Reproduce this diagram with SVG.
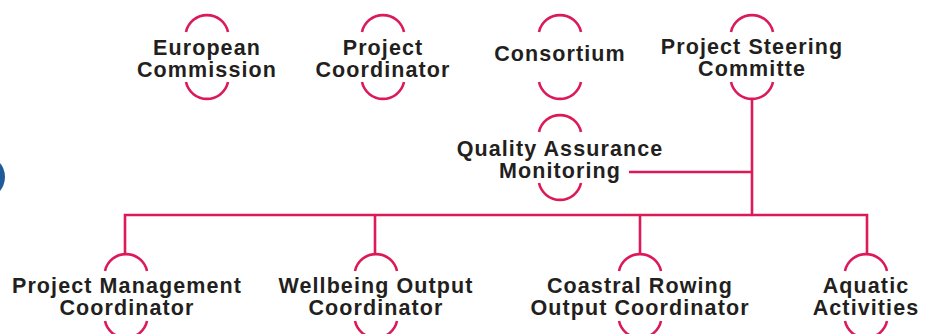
<svg xmlns="http://www.w3.org/2000/svg" width="930" height="334" viewBox="0 0 930 334">
<style>
.arc{fill:none;stroke:#dc1a58;stroke-width:2.6;stroke-linecap:butt}
.ln{fill:none;stroke:#dc1a58;stroke-width:2.6}
text{font-family:"Liberation Sans",Arial,sans-serif;font-weight:bold;font-size:21.5px;letter-spacing:1.1px;fill:#231f20;text-anchor:middle}
</style>
<rect width="930" height="334" fill="#ffffff"/>
<circle cx="-17" cy="177" r="22" fill="#1f5a9a"/>
<g id="connectors">
<path class="ln" d="M752,98 V215"/>
<path class="ln" d="M629,172 H752"/>
<path class="ln" d="M125,255 V215 H867 V255"/>
<path class="ln" d="M375,215 V255"/>
<path class="ln" d="M640,215 V255"/>
</g>
<g id="european-commission">
<path class="arc" d="M186,32 A21.5,21.5 0 0 1 228,32"/>
<path class="arc" d="M186,82 A21.5,21.5 0 0 0 228,82"/>
<text x="207" y="55">European</text>
<text x="207" y="77">Commission</text>
</g>
<g id="project-coordinator">
<path class="arc" d="M362,32 A21.5,21.5 0 0 1 404,32"/>
<path class="arc" d="M362,82 A21.5,21.5 0 0 0 404,82"/>
<text x="383" y="55">Project</text>
<text x="383" y="77">Coordinator</text>
</g>
<g id="consortium">
<path class="arc" d="M539,32 A21.5,21.5 0 0 1 581,32"/>
<path class="arc" d="M539,82 A21.5,21.5 0 0 0 581,82"/>
<text x="560" y="61">Consortium</text>
</g>
<g id="project-steering-committe">
<path class="arc" d="M731,32 A21.5,21.5 0 0 1 773,32"/>
<path class="arc" d="M731,82 A21.5,21.5 0 0 0 773,82"/>
<text x="752" y="54">Project Steering</text>
<text x="752" y="76">Committe</text>
</g>
<g id="quality-assurance-monitoring">
<path class="arc" d="M539,132 A21.5,21.5 0 0 1 581,132"/>
<path class="arc" d="M539,183 A21.5,21.5 0 0 0 581,183"/>
<text x="560" y="156">Quality Assurance</text>
<text x="560" y="178">Monitoring</text>
</g>
<g id="project-management-coordinator">
<path class="arc" d="M105,271 A21.5,21.5 0 0 1 147,271"/>
<path class="arc" d="M105,321 A21.5,21.5 0 0 0 147,321"/>
<text x="127" y="293">Project Management</text>
<text x="127" y="315">Coordinator</text>
</g>
<g id="wellbeing-output-coordinator">
<path class="arc" d="M355,271 A21.5,21.5 0 0 1 397,271"/>
<path class="arc" d="M355,321 A21.5,21.5 0 0 0 397,321"/>
<text x="376" y="293">Wellbeing Output</text>
<text x="376" y="315">Coordinator</text>
</g>
<g id="coastral-rowing-output-coordinator">
<path class="arc" d="M619,271 A21.5,21.5 0 0 1 661,271"/>
<path class="arc" d="M619,321 A21.5,21.5 0 0 0 661,321"/>
<text x="640" y="293">Coastral Rowing</text>
<text x="640" y="315">Output Coordinator</text>
</g>
<g id="aquatic-activities">
<path class="arc" d="M845,271 A21.5,21.5 0 0 1 887,271"/>
<path class="arc" d="M845,321 A21.5,21.5 0 0 0 887,321"/>
<text x="866" y="293">Aquatic</text>
<text x="866" y="315">Activities</text>
</g>
</svg>
